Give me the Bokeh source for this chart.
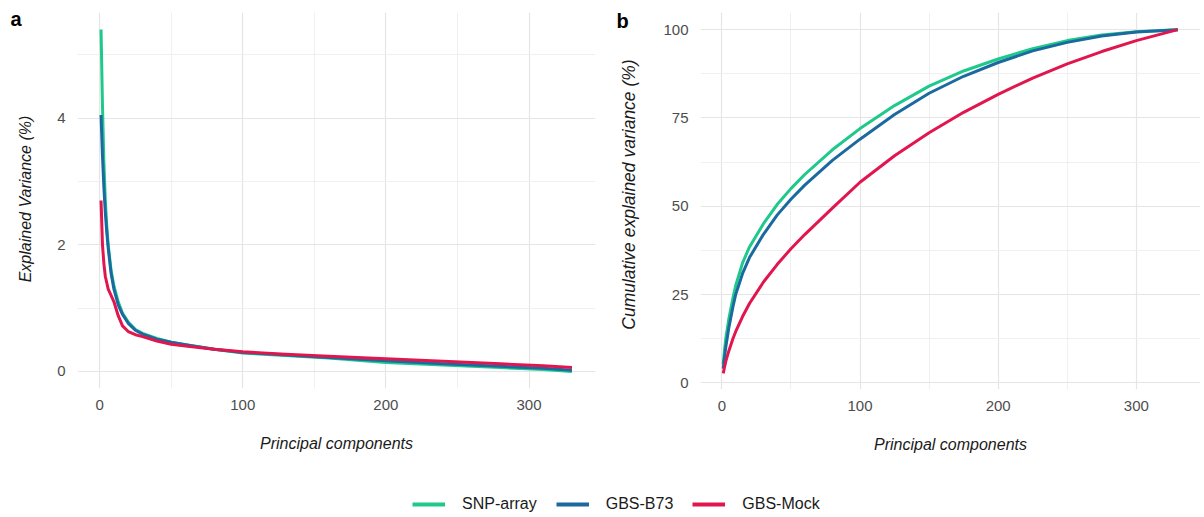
import math
from bokeh.plotting import figure
from bokeh.models import Range1d, FixedTicker, Legend, LegendItem
from bokeh.core.properties import value
from bokeh.layouts import row, column
from bokeh.embed import file_html
from bokeh.resources import INLINE

# ---------------- data ----------------
series_names = ["SNP-array", "GBS-B73", "GBS-Mock"]
series_colors = ["#1fc98b", "#1b6a9f", "#e2164e"]

# panel a: explained variance (%) per principal component
pc_a = [1, 2, 3, 4, 5, 6, 8, 10, 13, 16, 20, 25, 30, 40, 50, 60, 80, 100, 130, 160, 200, 240, 280, 310, 330]
snp_var = [5.4, 4.2, 3.3, 2.7, 2.3, 2.0, 1.6, 1.35, 1.1, 0.92, 0.78, 0.66, 0.60, 0.52, 0.46, 0.42, 0.35, 0.29, 0.25, 0.21, 0.14, 0.10, 0.06, 0.03, 0.0]
b73_var = [4.05, 3.4, 2.9, 2.5, 2.2, 1.95, 1.55, 1.3, 1.05, 0.90, 0.76, 0.65, 0.59, 0.51, 0.46, 0.42, 0.35, 0.30, 0.26, 0.22, 0.17, 0.12, 0.08, 0.05, 0.02]
mock_var = [2.7, 2.0, 1.7, 1.5, 1.4, 1.3, 1.2, 1.1, 0.88, 0.72, 0.63, 0.58, 0.55, 0.48, 0.43, 0.40, 0.35, 0.31, 0.27, 0.24, 0.20, 0.16, 0.12, 0.09, 0.06]

# panel b: cumulative explained variance (%)
pc_b = [1, 2, 3, 5, 8, 10, 15, 20, 30, 40, 50, 60, 80, 100, 125, 150, 175, 200, 225, 250, 275, 300, 330]
snp_cum = [5.4, 9.6, 13.0, 18.0, 24.0, 27.5, 34.0, 38.5, 45.0, 50.5, 55.0, 59.0, 66.0, 72.0, 78.5, 84.0, 88.3, 91.7, 94.6, 96.9, 98.5, 99.4, 100.0]
b73_cum = [4.05, 7.5, 10.5, 15.5, 21.5, 25.0, 31.0, 35.5, 42.0, 47.5, 52.0, 56.0, 63.0, 69.0, 76.0, 82.0, 86.8, 90.7, 94.0, 96.4, 98.2, 99.3, 100.0]
mock_cum = [2.7, 4.6, 6.3, 9.0, 12.5, 14.5, 18.8, 22.5, 28.5, 33.5, 38.0, 42.0, 49.5, 56.8, 64.3, 70.8, 76.6, 81.7, 86.3, 90.3, 93.8, 96.9, 100.0]

x_ticks = [0, 100, 200, 300]
x_minor = [50, 150, 250]
ya_ticks = [0, 2, 4]
ya_minor = [1, 3, 5]
yb_ticks = [0, 25, 50, 75, 100]
yb_minor = [12.5, 37.5, 62.5, 87.5]

panel_tags = ["a", "b"]
y_titles = ["Explained Variance (%)", "Cumulative explained variance (%)"]
x_title = "Principal components"

FONT = "Liberation Sans"
TICK_COLOR = "#4d4d4d"
TITLE_COLOR = "#1a1a1a"
H = 463


def style(p, xt, xm, yt, ym):
    p.outline_line_color = None
    p.background_fill_color = "white"
    p.border_fill_color = "white"
    p.xaxis.ticker = FixedTicker(ticks=xt, minor_ticks=xm)
    p.yaxis.ticker = FixedTicker(ticks=yt, minor_ticks=ym)
    for ax in (p.xaxis[0], p.yaxis[0]):
        ax.axis_line_color = None
        ax.major_tick_line_color = None
        ax.minor_tick_line_color = None
        ax.major_tick_out = 0
        ax.major_tick_in = 0
        ax.minor_tick_out = 0
        ax.minor_tick_in = 0
        ax.major_label_text_font = FONT
        ax.major_label_text_font_size = "15px"
        ax.major_label_text_color = TICK_COLOR
        ax.axis_label_text_font = FONT
        ax.axis_label_text_font_size = "16px"
        ax.axis_label_text_font_style = "italic"
        ax.axis_label_text_color = TITLE_COLOR
    p.xaxis.major_label_standoff = 11
    p.yaxis.major_label_standoff = 12
    p.xaxis.axis_label = x_title
    p.xaxis.axis_label_standoff = 22
    for g in (p.xgrid[0], p.ygrid[0]):
        g.grid_line_color = "#e5e5e5"
        g.grid_line_width = 1.2
        g.minor_grid_line_color = "#ececec"
        g.minor_grid_line_width = 0.8


def side_strip(width, top, bottom, tag, tag_x, title, title_x, title_y, title_size):
    """Narrow strip left of a panel holding the panel tag and the y-axis title.
    Its frame is aligned with the neighbouring panel frame (top..bottom), so the
    y range is expressed in canvas pixels."""
    s = figure(width=width, height=H, min_border_left=0, min_border_right=0,
               min_border_top=top, min_border_bottom=H - bottom,
               x_range=Range1d(0, width), y_range=Range1d(bottom, top),
               x_axis_type=None, y_axis_type=None,
               output_backend="svg", toolbar_location=None)
    s.outline_line_color = None
    s.xgrid.visible = False
    s.ygrid.visible = False
    s.text(x=[tag_x], y=[19], text=[tag], text_font=value(FONT),
           text_font_size="20px", text_font_style="bold", text_color="black",
           text_align="left", text_baseline="middle")
    s.text(x=[title_x], y=[title_y], text=[title], angle=math.pi / 2,
           text_font=value(FONT), text_font_size=title_size, text_font_style="italic",
           text_color=TITLE_COLOR, text_align="center", text_baseline="middle")
    return s


# ---------------- panel a ----------------
s1 = side_strip(40, 12, 388, panel_tags[0], 10, y_titles[0], 25, 199, "16px")
p1 = figure(width=560, height=H, frame_width=518, frame_height=376,
            min_border_left=37, min_border_right=5, min_border_top=12, min_border_bottom=75,
            x_range=Range1d(-15.45, 346.45), y_range=Range1d(-0.27, 5.67),
            output_backend="svg", toolbar_location=None)
style(p1, x_ticks, x_minor, ya_ticks, ya_minor)
for ys, c in zip([snp_var, b73_var, mock_var], series_colors):
    p1.line(pc_a, ys, line_color=c, line_width=3, line_join="round")

# ---------------- panel b ----------------
s2 = side_strip(45, 10, 387, panel_tags[1], 16, y_titles[1], 28, 193, "17.5px")
p2 = figure(width=559, height=H, frame_width=500, frame_height=377,
            min_border_left=55, min_border_right=4, min_border_top=10, min_border_bottom=76,
            x_range=Range1d(-15.45, 346.45), y_range=Range1d(-1.85, 104.85),
            output_backend="svg", toolbar_location=None)
style(p2, x_ticks, x_minor, yb_ticks, yb_minor)
for ys, c in zip([snp_cum, b73_cum, mock_cum], series_colors):
    p2.line(pc_b, ys, line_color=c, line_width=3, line_join="round")

# ---------------- legend strip ----------------
p3 = figure(width=1204, height=54, min_border_left=0, min_border_right=0,
            min_border_top=0, min_border_bottom=0,
            x_range=Range1d(0, 1), y_range=Range1d(0, 1),
            x_axis_type=None, y_axis_type=None,
            output_backend="svg", toolbar_location=None)
p3.outline_line_color = None
p3.xgrid.visible = False
p3.ygrid.visible = False
items = []
for name, c in zip(series_names, series_colors):
    r = p3.line([5, 6], [5, 6], line_color=c, line_width=4)
    items.append(LegendItem(label=name, renderers=[r]))
leg = Legend(items=items, orientation="horizontal", location=(412, 3),
             glyph_width=33, glyph_height=20, label_height=20, label_standoff=17,
             spacing=19, padding=0, margin=0, border_line_color=None,
             background_fill_alpha=0, label_text_font=FONT,
             label_text_font_size="16px", label_text_color=TITLE_COLOR)
p3.add_layout(leg, "center")

layout = column(row(s1, p1, s2, p2), p3)
open("out.html", "w").write(file_html(layout, INLINE))
